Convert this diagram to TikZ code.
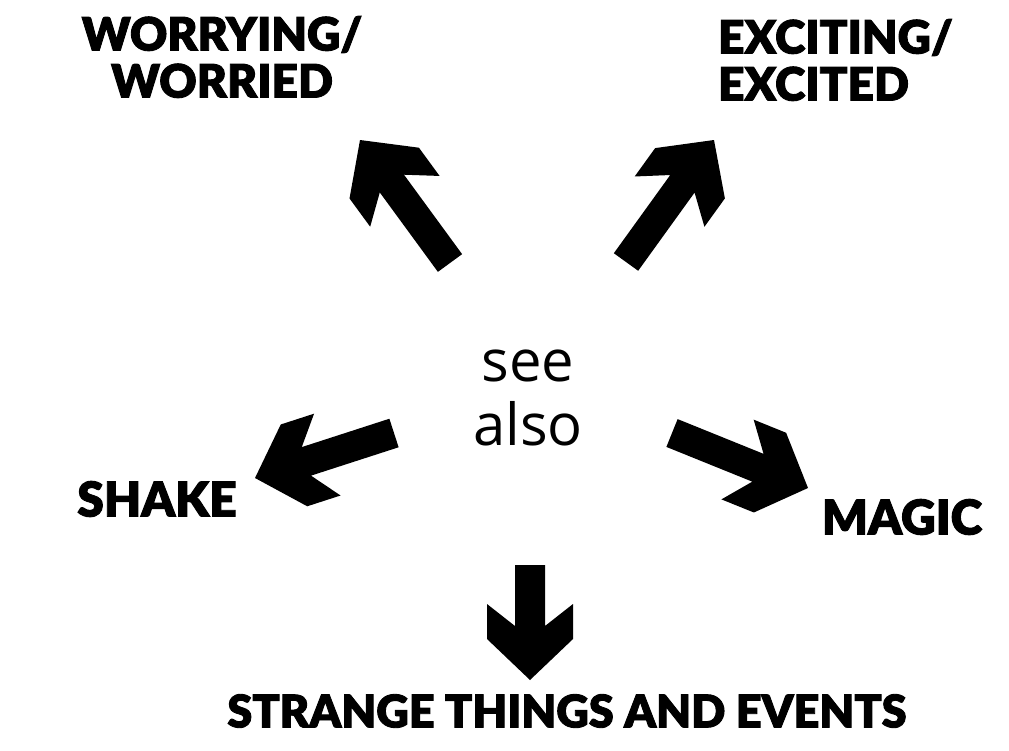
\documentclass[tikz,border=0pt]{standalone}
\usepackage{fontspec}
\usetikzlibrary{calc}
\IfFontExistsTF{Lato Black}{\newfontfamily\labfont{Lato Black}[FakeBold=2]}{\newfontfamily\labfont{Liberation Sans}[UprightFont=*Bold,FakeBold=2]}
\newfontfamily\seefont{Open Sans}
\tikzset{
  lab/.style={font=\labfont\fontsize{46}{47}\selectfont, inner sep=0pt},
  seetxt/.style={font=\seefont\fontsize{58}{64}\selectfont, align=center, inner sep=0pt},
  arrowfill/.style={fill=black},
}
\newcommand\blockarrow[2]{%
  \fill[arrowfill] let \p1=($(#2)-(#1)$), \n1={atan2(\y1,\x1)}, \n2={scalar(veclen(\x1,\y1))} in
    {[shift={(#1)},rotate=\n1]
     (0,15) -- ({\n2-54},15) -- ({\n2-76},43) -- ({\n2-41},43) -- (\n2,0)
     -- ({\n2-41},-43) -- ({\n2-76},-43) -- ({\n2-54},-15) -- (0,-15) -- cycle};
}
\begin{document}
\begin{tikzpicture}[x=1pt,y=-1pt]
\useasboundingbox (0,0) rectangle (1009,750);
\node[lab, align=center] (worry) at (222,57) {WORRYING/\\WORRIED};
\node[lab, align=left, anchor=west] (excite) at (718,60) {EXCITING/\\EXCITED};
\node[seetxt] (see) at (528,398) {see\\also};
\node[lab, font=\labfont\fontsize{48}{48}\selectfont] (shake) at (157,499) {SHAKE};
\node[lab, font=\labfont\fontsize{48}{48}\selectfont] (magic) at (902,517) {MAGIC};
\node[lab, font=\labfont\fontsize{45}{45}\selectfont] (strange) at (567,711) {STRANGE THINGS AND EVENTS};
\coordinate (tlA) at (450,263); \coordinate (tlB) at (360,140);
\coordinate (trA) at (626,262); \coordinate (trB) at (714,140);
\coordinate (lA) at (394,433); \coordinate (lB) at (255,478);
\coordinate (rA) at (672,433); \coordinate (rB) at (808,488);
\coordinate (dA) at (530,565); \coordinate (dB) at (530,680);
\blockarrow{tlA}{tlB}
\blockarrow{trA}{trB}
\blockarrow{lA}{lB}
\blockarrow{rA}{rB}
\blockarrow{dA}{dB}
\end{tikzpicture}
\end{document}
